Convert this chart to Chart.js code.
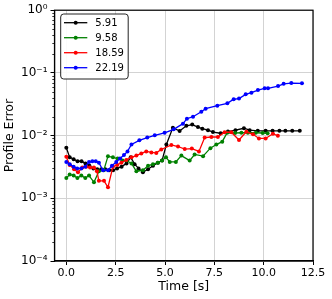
<!DOCTYPE html>
<html>
<head>
<meta charset="utf-8">
<script src="https://cdn.jsdelivr.net/npm/chart.js@4/dist/chart.umd.min.js"></script>
<style>
html,body{margin:0;padding:0;background:#fff;}
#wrap{width:332px;height:299px;}
</style>
</head>
<body>
<div id="wrap"><canvas id="c" width="332" height="299"></canvas></div>
<script>
// ---- data ----
const seriesLabels = ["5.91", "9.58", "18.59", "22.19"];
const seriesColors = ["#000000", "#008000", "#ff0000", "#0000ff"];

const time591 = [0, 0.17, 0.37, 0.57, 0.77, 0.97, 1.17, 1.37, 1.57, 1.77, 1.97, 2.17, 2.37, 2.57, 2.8, 3.05, 3.26, 3.46, 3.66, 3.88, 4.14, 4.39, 4.64, 4.85, 5.07, 5.4, 5.74, 6.08, 6.38, 6.67, 6.89, 7.18, 7.43, 7.82, 8.19, 8.57, 9.0, 9.29, 9.7, 10.1, 10.45, 10.8, 11.1, 11.45, 11.83];
const err591  = [0.0064, 0.0045, 0.0042, 0.0039, 0.0039, 0.0036, 0.0033, 0.0030, 0.0029, 0.0029, 0.0029, 0.0028, 0.0028, 0.0030, 0.0032, 0.0036, 0.0045, 0.0035, 0.0030, 0.0026, 0.0029, 0.0033, 0.0037, 0.0040, 0.0072, 0.0134, 0.0118, 0.0143, 0.0150, 0.0137, 0.0129, 0.0122, 0.0114, 0.0109, 0.0116, 0.0122, 0.0131, 0.0122, 0.0119, 0.0119, 0.0119, 0.0119, 0.0119, 0.0119, 0.0119];

const time958 = [0, 0.17, 0.37, 0.56, 0.76, 0.96, 1.15, 1.4, 1.65, 1.9, 2.11, 2.36, 2.6, 2.85, 3.05, 3.3, 3.55, 3.88, 4.14, 4.39, 4.64, 4.85, 5.05, 5.24, 5.55, 5.83, 6.25, 6.5, 6.93, 7.3, 7.6, 7.9, 8.15, 8.55, 8.87, 9.2, 9.6, 9.95, 10.2];
const err958  = [0.0021, 0.0024, 0.0023, 0.0021, 0.0023, 0.0021, 0.0023, 0.0018, 0.0027, 0.0028, 0.0047, 0.0045, 0.0043, 0.0040, 0.0040, 0.0036, 0.0027, 0.0028, 0.0033, 0.0035, 0.0037, 0.0040, 0.0045, 0.0038, 0.0038, 0.0048, 0.0040, 0.0050, 0.0047, 0.0063, 0.0072, 0.0080, 0.0111, 0.0110, 0.0111, 0.0111, 0.0111, 0.0110, 0.0109];

const time1859 = [0, 0.17, 0.39, 0.59, 0.81, 1.01, 1.2, 1.4, 1.55, 1.65, 1.91, 2.11, 2.36, 2.58, 2.79, 3.04, 3.3, 3.55, 3.8, 4.05, 4.31, 4.56, 4.81, 5.32, 5.66, 6.0, 6.36, 6.72, 7.01, 7.35, 7.68, 8.02, 8.36, 8.75, 9.12, 9.46, 9.76, 10.1, 10.47, 10.72];
const err1859  = [0.0046, 0.0034, 0.0029, 0.0026, 0.0031, 0.0032, 0.0031, 0.0031, 0.0027, 0.0019, 0.0019, 0.0015, 0.0032, 0.0034, 0.0037, 0.0041, 0.0045, 0.0048, 0.0052, 0.0056, 0.0054, 0.0053, 0.0060, 0.0071, 0.0067, 0.0061, 0.0062, 0.0056, 0.0093, 0.0095, 0.0095, 0.0113, 0.0113, 0.0085, 0.0115, 0.0105, 0.0090, 0.0090, 0.0107, 0.0099];

const time2219 = [0, 0.17, 0.37, 0.55, 0.76, 0.96, 1.15, 1.32, 1.49, 1.65, 1.86, 2.11, 2.31, 2.53, 2.72, 2.92, 3.1, 3.3, 3.7, 4.1, 4.48, 4.98, 5.44, 5.91, 6.11, 6.42, 6.84, 7.06, 7.65, 8.16, 8.48, 8.75, 9.09, 9.38, 9.71, 10.05, 10.22, 10.73, 11.01, 11.4, 11.94];
const err2219  = [0.0038, 0.0035, 0.0032, 0.0030, 0.0030, 0.0032, 0.0038, 0.0039, 0.0039, 0.0037, 0.0028, 0.0028, 0.0033, 0.0038, 0.0043, 0.0049, 0.0056, 0.0072, 0.0084, 0.0093, 0.0101, 0.0111, 0.0126, 0.0155, 0.0186, 0.0200, 0.0240, 0.0269, 0.0300, 0.0327, 0.0380, 0.0390, 0.0455, 0.0483, 0.0533, 0.0567, 0.0567, 0.0617, 0.0670, 0.0689, 0.0683];

const xTickValues = [0, 2.5, 5, 7.5, 10, 12.5];
const yDecades = [-4, -3, -2, -1, 0];

// ---- build ----
const times = [time591, time958, time1859, time2219];
const errs = [err591, err958, err1859, err2219];
const supMap = {"-": "\u207B", "0": "\u2070", "1": "\u00B9", "2": "\u00B2", "3": "\u00B3", "4": "\u2074", "5": "\u2075", "6": "\u2076", "7": "\u2077", "8": "\u2078", "9": "\u2079"};
function sup(n) { return String(n).split("").map(c => supMap[c]).join(""); }
function isPow10(v) { const l = Math.log10(v); return Math.abs(l - Math.round(l)) < 1e-9; }

const yTickValues = [];
yDecades.forEach((e, i) => {
  const maxM = (i === yDecades.length - 1) ? 1 : 9;
  for (let m = 1; m <= maxM; m++) yTickValues.push(m * Math.pow(10, e));
});

const datasets = seriesLabels.map((lab, i) => ({
  label: lab,
  data: times[i].map((t, k) => ({x: t, y: errs[i][k]})),
  borderColor: seriesColors[i],
  backgroundColor: seriesColors[i],
  pointBackgroundColor: seriesColors[i],
  pointBorderWidth: 0,
  pointRadius: 2,
  borderWidth: 1.3,
  tension: 0,
  fill: false,
  order: seriesLabels.length - i
}));

const frameAndLegend = {
  id: 'frameAndLegend',
  afterDraw(chart) {
    const ctx = chart.ctx;
    const a = chart.chartArea;
    const ys = chart.scales.y;
    ctx.save();
    // minor ticks on y axis
    ctx.strokeStyle = '#000';
    ctx.lineWidth = 0.8;
    yTickValues.forEach(v => {
      if (isPow10(v)) return;
      const py = Math.round(ys.getPixelForValue(v)) + 0.5;
      ctx.beginPath();
      ctx.moveTo(a.left - 2.2, py);
      ctx.lineTo(a.left, py);
      ctx.stroke();
    });
    // frame
    ctx.lineWidth = 1.2;
    ctx.strokeRect(a.left, a.top, a.right - a.left, a.bottom - a.top);
    // legend
    const bx = 60.7, by = 14, bw = 67.5, bh = 65, r = 3;
    ctx.beginPath();
    ctx.moveTo(bx + r, by);
    ctx.arcTo(bx + bw, by, bx + bw, by + bh, r);
    ctx.arcTo(bx + bw, by + bh, bx, by + bh, r);
    ctx.arcTo(bx, by + bh, bx, by, r);
    ctx.arcTo(bx, by, bx + bw, by, r);
    ctx.closePath();
    ctx.fillStyle = 'rgba(255,255,255,0.9)';
    ctx.fill();
    ctx.strokeStyle = '#222';
    ctx.lineWidth = 1;
    ctx.stroke();
    ctx.font = '10px "DejaVu Sans"';
    ctx.textBaseline = 'middle';
    ctx.textAlign = 'left';
    chart.data.datasets.forEach((ds, i) => {
      const yy = 22.7 + i * 15;
      ctx.strokeStyle = ds.borderColor;
      ctx.lineWidth = 1.3;
      ctx.beginPath();
      ctx.moveTo(64, yy);
      ctx.lineTo(87.3, yy);
      ctx.stroke();
      ctx.fillStyle = ds.borderColor;
      ctx.beginPath();
      ctx.arc(75.7, yy, 2, 0, Math.PI * 2);
      ctx.fill();
      ctx.fillStyle = '#000';
      ctx.fillText(ds.label, 95.3, yy + 0.5);
    });
    ctx.restore();
  }
};

new Chart(document.getElementById('c'), {
  type: 'line',
  data: { datasets },
  options: {
    responsive: false,
    animation: false,
    events: [],
    layout: { padding: { top: 9, right: 19, left: 0, bottom: 0 } },
    plugins: { legend: { display: false }, tooltip: { enabled: false } },
    scales: {
      x: {
        type: 'linear',
        min: -0.6,
        max: 12.5,
        afterBuildTicks: (s) => { s.ticks = xTickValues.map(v => ({ value: v })); },
        afterFit: (s) => { s.height = 38; },
        ticks: {
          autoSkip: false,
          maxRotation: 0,
          padding: 2,
          color: '#000',
          font: { family: 'DejaVu Sans', size: 11 },
          callback: (v) => Number(v).toFixed(1)
        },
        grid: { color: '#d3d3d3', lineWidth: 1, tickColor: '#000', tickLength: 4, tickWidth: 1 },
        border: { color: '#000', width: 1.2 },
        title: { display: true, text: 'Time [s]', color: '#000', font: { family: 'DejaVu Sans', size: 12.5 }, padding: { top: 4.5, bottom: 4.5 } }
      },
      y: {
        type: 'logarithmic',
        min: 1e-4,
        max: 1,
        afterBuildTicks: (s) => { s.ticks = yTickValues.map(v => ({ value: v, major: isPow10(v) })); },
        afterFit: (s) => { s.width = 54.5; },
        ticks: {
          autoSkip: false,
          padding: 3,
          color: '#000',
          font: { family: 'DejaVu Sans', size: 12 },
          callback: (v) => isPow10(v) ? '10' + sup(Math.round(Math.log10(v))) : ''
        },
        grid: {
          color: (c) => (c.tick && isPow10(c.tick.value)) ? '#d3d3d3' : 'rgba(0,0,0,0)',
          tickColor: (c) => (c.tick && isPow10(c.tick.value)) ? '#000' : 'rgba(0,0,0,0)',
          lineWidth: 1,
          tickLength: 4,
          tickWidth: 1
        },
        border: { color: '#000', width: 1.2 },
        title: { display: true, text: 'Profile Error', color: '#000', font: { family: 'DejaVu Sans', size: 12.5 }, padding: { top: 2.5, bottom: 2.5 } }
      }
    }
  },
  plugins: [frameAndLegend]
});
</script>
</body>
</html>
